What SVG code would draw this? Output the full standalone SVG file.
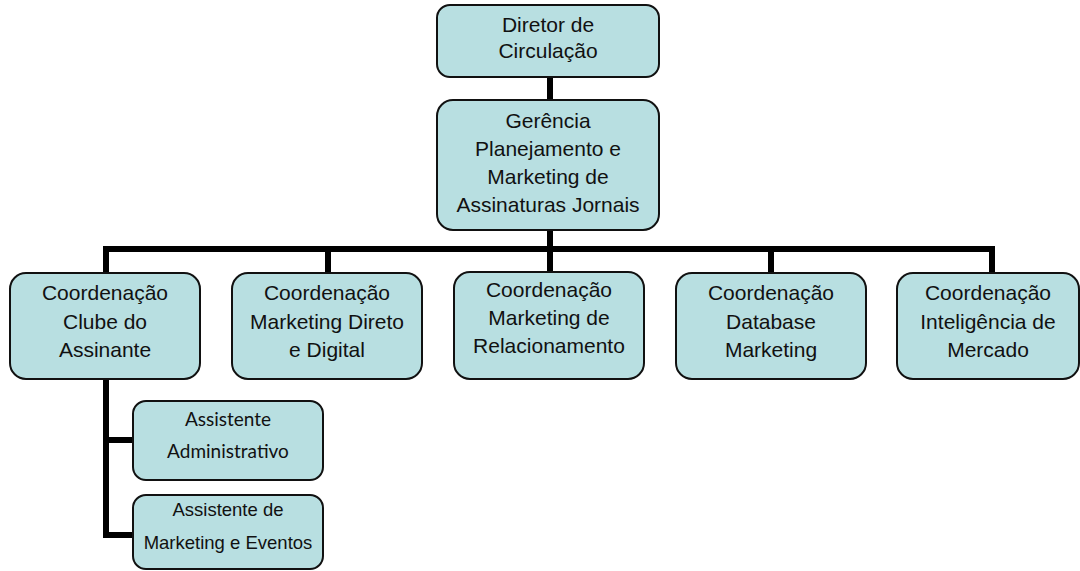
<svg xmlns="http://www.w3.org/2000/svg" width="1080" height="571" viewBox="0 0 1080 571">
<style>
.box{fill:#b8dfe1;stroke:#111;stroke-width:2}
.t{font-family:'Liberation Sans',sans-serif;font-size:21px;fill:#111;text-anchor:middle}
.ts{font-family:Lato,'Open Sans',sans-serif;font-size:19px;fill:#111;text-anchor:middle}
.tb{font-family:'Liberation Sans',sans-serif;font-size:18.5px;fill:#111;text-anchor:middle}
.c{fill:none;stroke:#000;stroke-width:6;stroke-linejoin:miter;stroke-linecap:butt}
</style>
<rect width="1080" height="571" fill="#fff"/>
<g id="connectors">
<path class="c" d="M550,77 V100"/>
<path class="c" d="M550,230 V272"/>
<path class="c" d="M106,273 V249 H992 V273"/>
<path class="c" d="M328,249 V273"/>
<path class="c" d="M771,249 V273"/>
<path class="c" d="M106,379 V535 H133"/>
<path class="c" d="M106,440 H133"/>
</g>
<g id="diretor">
<rect class="box" x="437" y="5" width="222" height="72" rx="13"/>
<text class="t" x="548" y="32">Diretor de</text>
<text class="t" x="548" y="58">Circulação</text>
</g>
<g id="gerencia">
<rect class="box" x="437" y="100" width="222" height="130" rx="16"/>
<text class="t" x="548" y="128">Gerência</text>
<text class="t" x="548" y="156">Planejamento e</text>
<text class="t" x="548" y="184">Marketing de</text>
<text class="t" x="548" y="212">Assinaturas Jornais</text>
</g>
<g id="clube">
<rect class="box" x="10" y="273" width="190" height="106" rx="16"/>
<text class="t" x="105" y="300">Coordenação</text>
<text class="t" x="105" y="328.5">Clube do</text>
<text class="t" x="105" y="357">Assinante</text>
</g>
<g id="direto">
<rect class="box" x="232" y="273" width="190" height="106" rx="16"/>
<text class="t" x="327" y="300">Coordenação</text>
<text class="t" x="327" y="328.5">Marketing Direto</text>
<text class="t" x="327" y="357">e Digital</text>
</g>
<g id="relacionamento">
<rect class="box" x="454" y="272" width="190" height="107" rx="16"/>
<text class="t" x="549" y="297">Coordenação</text>
<text class="t" x="549" y="325">Marketing de</text>
<text class="t" x="549" y="353">Relacionamento</text>
</g>
<g id="database">
<rect class="box" x="676" y="273" width="190" height="106" rx="16"/>
<text class="t" x="771" y="300">Coordenação</text>
<text class="t" x="771" y="328.5">Database</text>
<text class="t" x="771" y="357">Marketing</text>
</g>
<g id="inteligencia">
<rect class="box" x="897" y="273" width="182" height="106" rx="16"/>
<text class="t" x="988" y="300">Coordenação</text>
<text class="t" x="988" y="328.5">Inteligência de</text>
<text class="t" x="988" y="357">Mercado</text>
</g>
<g id="administrativo">
<rect class="box" x="133" y="401" width="190" height="79" rx="13"/>
<text class="ts" x="228" y="426">Assistente</text>
<text class="ts" x="228" y="458">Administrativo</text>
</g>
<g id="eventos">
<rect class="box" x="133" y="495" width="190" height="74" rx="13"/>
<text class="tb" x="228" y="516">Assistente de</text>
<text class="tb" x="228" y="549">Marketing e Eventos</text>
</g>
</svg>
